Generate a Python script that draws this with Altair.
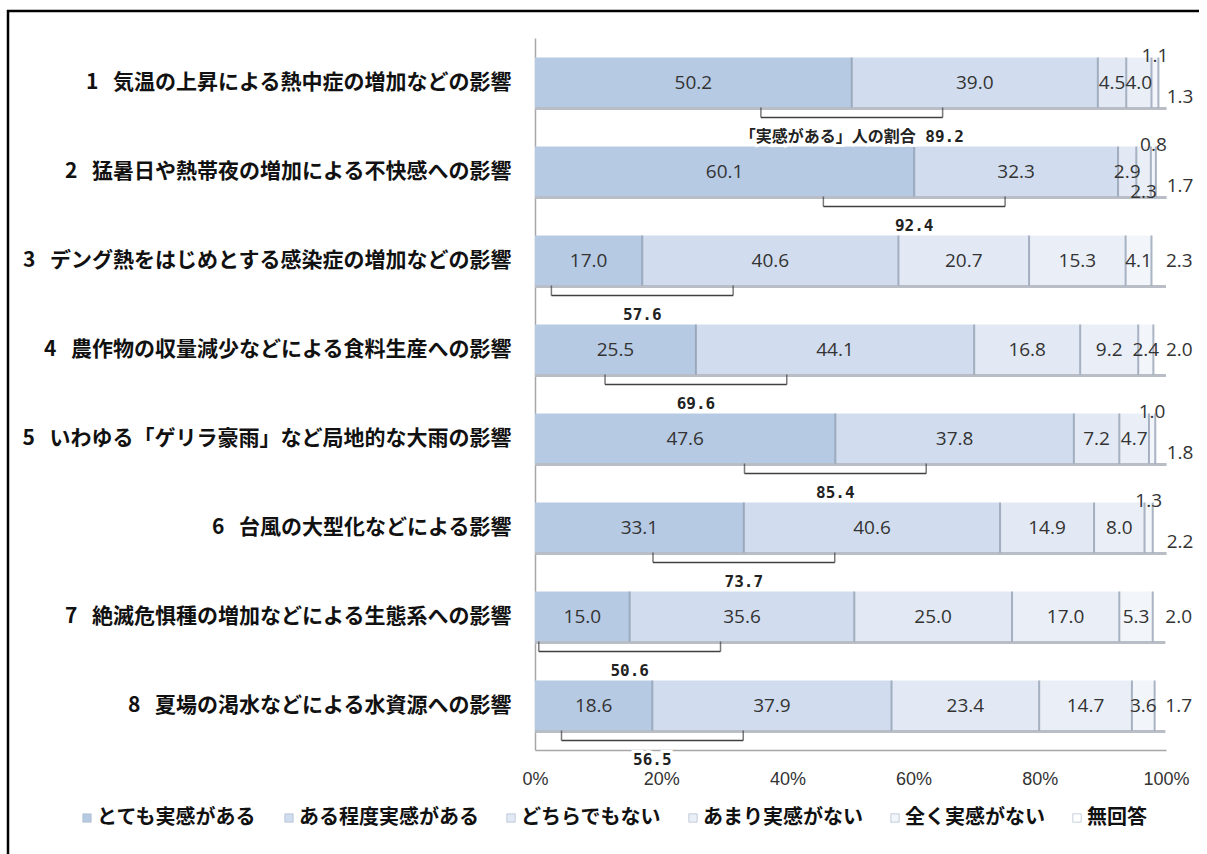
import altair as alt
import pandas as pd

# ---------------- data ----------------
items = [
    "1\u2002\u2009気温の上昇による熱中症の増加などの影響",
    "2\u2002\u2009猛暑日や熱帯夜の増加による不快感への影響",
    "3\u2002\u2009デング熱をはじめとする感染症の増加などの影響",
    "4\u2002\u2009農作物の収量減少などによる食料生産への影響",
    "5\u2002\u2009いわゆる「ゲリラ豪雨」など局地的な大雨の影響",
    "6\u2002\u2009台風の大型化などによる影響",
    "7\u2002\u2009絶滅危惧種の増加などによる生態系への影響",
    "8\u2002\u2009夏場の渇水などによる水資源への影響",
]
series = ["とても実感がある", "ある程度実感がある", "どちらでもない",
          "あまり実感がない", "全く実感がない", "無回答"]
v_very = [50.2, 60.1, 17.0, 25.5, 47.6, 33.1, 15.0, 18.6]
v_some = [39.0, 32.3, 40.6, 44.1, 37.8, 40.6, 35.6, 37.9]
v_neither = [4.5, 2.9, 20.7, 16.8, 7.2, 14.9, 25.0, 23.4]
v_little = [4.0, 2.3, 15.3, 9.2, 4.7, 8.0, 17.0, 14.7]
v_none = [1.1, 0.8, 4.1, 2.4, 1.0, 1.3, 5.3, 3.6]
v_na = [1.3, 1.7, 2.3, 2.0, 1.8, 2.2, 2.0, 1.7]
bracket_prefix = ["「実感がある」人の割合 ", "", "", "", "", "", "", ""]
x_ticks = [0, 20, 40, 60, 80, 100]

colors = ["#b7cae3", "#d1ddee", "#e2e9f4", "#eaeff7", "#f2f5fa", "#ffffff"]

# ---------------- tables ----------------
cols = [v_very, v_some, v_neither, v_little, v_none, v_na]
rows = []
for i, it in enumerate(items):
    cum = 0.0
    for k, s in enumerate(series):
        v = cols[k][i]
        rows.append(dict(item=it, series=s, order=k, value=v,
                         start=cum, end=cum + v, mid=cum + v / 2,
                         label=f"{v:.1f}",
                         none_small=v_none[i] < 2.4))
        cum += v
df = pd.DataFrame(rows)

totals = df.groupby("item", sort=False)["end"].max().reset_index(name="total")
totals["zero"] = 0.0

inside = df[(df.order < 5) & (df.value >= 2.4)]
above = df[(df.order == 4) & (df.value < 2.4)]
below = df[(df.order < 4) & (df.value < 2.4)]
right_low = df[(df.order == 5) & (df.none_small)]
right_mid = df[(df.order == 5) & (~df.none_small)]
seps = df[df.order < 5]

half = 14.4
br = pd.DataFrame(dict(
    item=items,
    center=v_very,
    b0=[v - half for v in v_very],
    b1=[v + half for v in v_very],
    text=[p + f"{a + b:.1f}" for p, a, b in zip(bracket_prefix, v_very, v_some)],
))

W, H = 631, 712
yscale = alt.Scale(domain=items, paddingInner=0.438, paddingOuter=0.219)
xscale = alt.Scale(domain=[0, 100], nice=False)
yaxis = alt.Axis(title=None, ticks=False, labelFontSize=21,
                 labelFont="Noto Sans CJK JP", labelFontWeight="bold",
                 labelColor="#111111",
                 labelPadding=24, labelLimit=700,
                 domainColor="#a6a6a6", domainWidth=1.5)
xaxis = alt.Axis(title=None, values=x_ticks, ticks=False, grid=False,
                 labelExpr="datum.value + '%'", labelFontSize=18,
                 labelFlush=False,
                 labelFont="Liberation Sans", labelColor="#333333",
                 labelPadding=20, domainColor="#a6a6a6", domainWidth=1.5)


def Y():
    return alt.Y("item:N", scale=yscale, sort=items, axis=yaxis, title=None)


def X(f):
    return alt.X(f, scale=xscale, axis=xaxis, title=None)


frame_top = alt.Chart(pd.DataFrame({"a": [0]})).mark_rule(
    color="#000000", strokeWidth=2.5
).encode(x=alt.value(-528), x2=alt.value(664), y=alt.value(-27))
frame_left = alt.Chart(pd.DataFrame({"a": [0]})).mark_rule(
    color="#000000", strokeWidth=2.5
).encode(x=alt.value(-527), y=alt.value(-28), y2=alt.value(830))

bars = alt.Chart(df).mark_bar().encode(
    x=X("start:Q"), x2="end:Q", y=Y(),
    color=alt.Color("series:N", scale=alt.Scale(domain=series, range=colors),
                    legend=alt.Legend(title=None, orient="none", legendX=-458,
                                      legendY=770, direction="horizontal",
                                      symbolType="square", symbolSize=70,
                                      symbolStrokeColor="#9fb0c6",
                                      symbolStrokeWidth=0.6,
                                      labelFont="Noto Sans CJK JP",
                                      labelFontWeight="bold",
                                      labelFontSize=20, labelColor="#111111",
                                      labelLimit=400,
                                      labelOffset=0, columnPadding=22)),
    order="order:Q",
)

shadow = alt.Chart(totals).mark_rule(color="#b9bec6", strokeWidth=3, yOffset=26).encode(
    x=X("zero:Q"), x2="total:Q", y=Y())

separators = alt.Chart(seps).mark_tick(
    orient="vertical", color="#8796aa", thickness=2, size=50
).encode(x=X("end:Q"), y=Y())

br_h = alt.Chart(br).mark_rule(color="#404040", strokeWidth=1.5, yOffset=35).encode(
    x=X("b0:Q"), x2="b1:Q", y=Y())
br_l = alt.Chart(br).mark_tick(orient="vertical", color="#404040", thickness=1.5,
                               size=10, yOffset=30).encode(x=X("b0:Q"), y=Y())
br_r = alt.Chart(br).mark_tick(orient="vertical", color="#404040", thickness=1.5,
                               size=10, yOffset=30).encode(x=X("b1:Q"), y=Y())

bfont = '"DejaVu Sans Mono", "Noto Sans CJK JP"'
br_halo = alt.Chart(br).mark_text(font=bfont, fontSize=16, dy=54, stroke="white",
                                  strokeWidth=6, fill="white").encode(
    x=X("center:Q"), y=Y(), text="text:N")
br_text = alt.Chart(br).mark_text(font=bfont, fontSize=16, dy=54,
                                  fontWeight="bold", color="#222222").encode(
    x=X("center:Q"), y=Y(), text="text:N")

vfont = "Open Sans"


def vlabels(data, **kw):
    return alt.Chart(data).mark_text(font=vfont, fontSize=19, color="#333333", **kw).encode(
        x=X("mid:Q"), y=Y(), text="label:N")


def rlabels(data, dy):
    return alt.Chart(data).mark_text(font=vfont, fontSize=19, color="#333333",
                                     align="left", dx=0, dy=dy).encode(
        x=X("end:Q"), y=Y(), text="label:N")


lab_in = vlabels(inside)
lab_above = vlabels(above, dy=-27)
lab_below = vlabels(below, dy=20)
lab_rl = rlabels(right_low, 14)
lab_rm = rlabels(right_mid, 0)

chart = alt.layer(
    frame_top, frame_left, bars, shadow, separators, br_h, br_l, br_r, br_halo,
    br_text, lab_in, lab_above, lab_below, lab_rl, lab_rm
).properties(
    width=W, height=H,
    autosize=alt.AutoSizeParams(type="none"),
    padding={"left": 535, "top": 38, "right": 1207 - 535 - W, "bottom": 854 - 38 - H},
    background="#ffffff",
).configure_view(stroke=None)

chart.save("out.html", embed_options={"renderer": "svg", "actions": False})
